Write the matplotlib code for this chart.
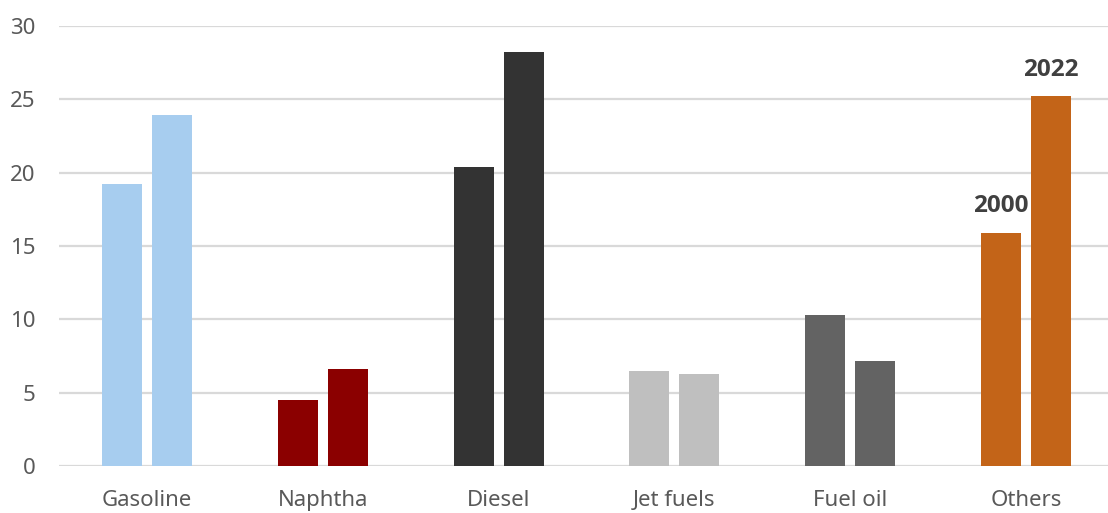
import numpy as np
import matplotlib
matplotlib.use("Agg")
import matplotlib.pyplot as plt

plt.rcParams['font.family'] = ['Noto Sans', 'DejaVu Sans']

categories = ["Gasoline", "Naphtha", "Diesel", "Jet fuels", "Fuel oil", "Others"]
vals_2000 = [19.2, 4.5, 20.4, 6.5, 10.3, 15.9]
vals_2022 = [23.9, 6.6, 28.2, 6.3, 7.2, 25.2]
colors = ["#A7CDEF", "#8B0000", "#333333", "#BFBFBF", "#636363", "#C36418"]

fig = plt.figure(figsize=(11.08, 5.13), dpi=100)
ax = fig.add_axes([0.0532, 0.091, 0.9468, 0.859])

x = np.arange(len(categories))
w = 0.2275
off = 0.142
b1 = ax.bar(x - off, vals_2000, w, color=colors, zorder=3)
b2 = ax.bar(x + off, vals_2022, w, color=colors, zorder=3)

# year labels on the last group
bold = dict(ha="center", va="center", fontsize=17.5, fontweight="bold", color="#404040",
            family=["Open Sans", "Noto Sans CJK KR", "DejaVu Sans"])
ax.annotate("2000", (x[-1] - off, vals_2000[-1]), xytext=(0, 19), textcoords="offset points", **bold)
ax.annotate("2022", (x[-1] + off, vals_2022[-1]), xytext=(0, 19), textcoords="offset points", **bold)

ax.set_xlim(-0.5, 5.466)
ax.set_ylim(0, 30)
ax.set_yticks(range(0, 31, 5))
ax.set_xticks(x)
ax.set_xticklabels(categories)
ax.yaxis.grid(True, color="#D9D9D9", linewidth=1.6, zorder=0)
ax.tick_params(axis="both", length=0, labelsize=16, labelcolor="#595959")
ax.tick_params(axis="y", pad=17)
ax.tick_params(axis="x", pad=17)
for s in ax.spines.values():
    s.set_visible(False)

fig.savefig("out.png", dpi=100)
